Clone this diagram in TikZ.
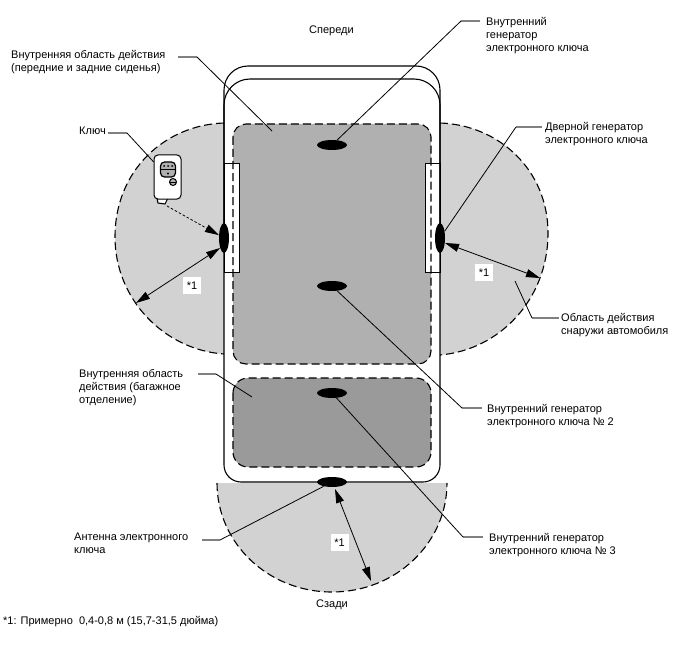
\documentclass[tikz,border=0pt]{standalone}
\usepackage{fontspec}
\setmainfont{Liberation Sans}
\usetikzlibrary{arrows.meta,shapes.geometric}
\definecolor{outerzone}{HTML}{D2D2D2}
\definecolor{cabinzone}{HTML}{B0B0B0}
\definecolor{trunkzone}{HTML}{9A9A9A}
\definecolor{leadgray}{HTML}{808080}
\begin{document}
\begin{tikzpicture}[x=1pt,y=-1pt,
    zone/.style={dash pattern=on 8pt off 4pt,line width=1.1pt},
    body/.style={draw=black,line width=1.1pt},
    lead/.style={draw=black,line width=0.8pt},
    stub/.style={draw=leadgray,line width=1.4pt},
    span/.style={draw=black,line width=0.8pt,{Triangle[length=14pt,width=8pt]}-{Triangle[length=14pt,width=8pt]}}]
\useasboundingbox (0,0) rectangle (688,658);

% zones
\fill [outerzone] (224,123) .. controls (165,125) and (115,170) .. (115,237) .. controls (115,300) and (165,350) .. (224,354) -- cycle;
\draw [zone] (224,123) .. controls (165,125) and (115,170) .. (115,237) .. controls (115,300) and (165,350) .. (224,354);
\fill [outerzone] (440,123) .. controls (499,125) and (548,170) .. (548,233) .. controls (548,300) and (499,350) .. (440,355) -- cycle;
\draw [zone] (440,123) .. controls (499,125) and (548,170) .. (548,233) .. controls (548,300) and (499,350) .. (440,355);
\fill [outerzone] (217,483) .. controls (217,543) and (268,592) .. (332,592) .. controls (396,592) and (447,543) .. (447,483) -- cycle;
\draw [zone] (217,483) .. controls (217,543) and (268,592) .. (332,592) .. controls (396,592) and (447,543) .. (447,483);
\fill [white] (224,100) rectangle (440,482);
\fill [cabinzone,rounded corners=13pt] (233,124) rectangle (431,364);
\fill [trunkzone,rounded corners=15pt] (233,378) rectangle (431,467);

% car
\draw [draw=black,line width=0.9pt,fill=white] (224,163) rectangle (239,272);
\draw [draw=black,line width=0.9pt,fill=white] (425,163) rectangle (440,272);
\draw [zone,rounded corners=13pt] (233,124) rectangle (431,364);
\draw [zone,rounded corners=15pt] (233,378) rectangle (431,467);
\draw [body,rounded corners=24pt] (224,240) -- (224,66) -- (440,66) -- (440,240);
\draw [body,rounded corners=26pt] (224,240) -- (224,79) -- (440,79) -- (440,240);
\draw [body,rounded corners=17pt] (224,240) -- (224,482) -- (440,482) -- (440,240);

% key
\draw [body,fill=white] (157,198) -- (158,203) -- (165,204) -- (168,198) -- cycle;
\node (key) at (167.5,177) [rectangle,rounded corners=4pt,draw,line width=1pt,fill=white,minimum width=27pt,minimum height=44pt] {};
\draw [line width=1.2pt,fill=cabinzone,rounded corners=4pt] (160.5,162) rectangle (175.5,177);
\draw [line width=1pt] (160.5,169.5) -- (175.5,169.5);
\foreach \dotx in {164,168,172}
    \fill (\dotx,166) circle (1pt);
\fill (168,173.5) circle (1.2pt);
\draw [line width=1pt,fill=cabinzone] (173,182) circle (3.5pt);
\draw [line width=1pt] (170,182) -- (176,182);
\coordinate (keytab) at (167,206);

\begin{scope}[every node/.style={ellipse,fill=black,inner sep=0pt}]
    \node (gen1) at (332,145) [minimum width=30pt,minimum height=10pt] {};
    \node (gen2) at (332,286) [minimum width=30pt,minimum height=10pt] {};
    \node (gen3) at (332,393) [minimum width=30pt,minimum height=10pt] {};
    \node (ant) at (332,482) [minimum width=30pt,minimum height=10pt] {};
    \node (doorl) at (224,238) [minimum width=10pt,minimum height=30pt] {};
    \node (doorr) at (440,238) [minimum width=10pt,minimum height=30pt] {};
\end{scope}

% labels
\begin{scope}[every node/.style={anchor=north west,align=left,inner sep=0pt,font=\fontsize{11}{13}\selectfont}]
    \node (front) at (309,26) {Спереди};
    \node (rear) at (316,600) {Сзади};
    \node (seats) at (11,50) {Внутренняя область действия\\(передние и задние сиденья)};
    \node (keytxt) at (79,127) {Ключ};
    \node (gen1txt) at (486,17) {Внутренний\\генератор\\электронного ключа};
    \node (doortxt) at (545,122) {Дверной генератор\\электронного ключа};
    \node (outtxt) at (561,313) {Область действия\\снаружи автомобиля};
    \node (gen2txt) at (487,404) {Внутренний генератор\\электронного ключа № 2};
    \node (trunktxt) at (79,369) {Внутренняя область\\действия (багажное\\отделение)};
    \node (anttxt) at (74,533) {Антенна электронного\\ключа};
    \node (gen3txt) at (489,533) {Внутренний генератор\\электронного ключа № 3};
    \node (note) at (3,616) {*1: Примерно\ \ 0,4-0,8 м (15,7-31,5 дюйма)};
\end{scope}

% leaders
\coordinate (s1) at (178,57);
\coordinate (b1) at (197,57);
\coordinate (e1) at (272,131);
\coordinate (s2) at (108,133);
\coordinate (b2) at (127,133);
\coordinate (s3) at (480,21);
\coordinate (b3) at (461,21);
\coordinate (s4) at (542,127);
\coordinate (b4) at (516,127);
\coordinate (s5) at (559,318);
\coordinate (b5) at (532,318);
\coordinate (e5) at (515,281);
\coordinate (s6) at (482,408);
\coordinate (b6) at (462,408);
\coordinate (s7) at (198,374);
\coordinate (b7) at (216,374);
\coordinate (e7) at (252,397);
\coordinate (s8) at (202,540);
\coordinate (b8) at (220,540);
\coordinate (s9) at (483,537);
\coordinate (b9) at (463,537);
\draw [stub] (s1) -- (b1);
\draw [lead] (b1) -- (e1);
\draw [stub] (s2) -- (b2);
\draw [lead] (b2) -- (key);
\draw [stub] (s3) -- (b3);
\draw [lead] (b3) -- (gen1);
\draw [stub] (s4) -- (b4);
\draw [lead] (b4) -- (doorr);
\draw [stub] (s5) -- (b5);
\draw [lead] (b5) -- (e5);
\draw [stub] (s6) -- (b6);
\draw [lead] (b6) -- (gen2);
\draw [stub] (s7) -- (b7);
\draw [lead] (b7) -- (e7);
\draw [stub] (s8) -- (b8);
\draw [lead] (b8) -- (ant);
\draw [stub] (s9) -- (b9);
\draw [lead] (b9) -- (gen3);

% reach
\coordinate (edgel) at (136,303);
\coordinate (edger) at (540,278);
\coordinate (edgeb) at (371,581);
\coordinate (startl) at (220,248);
\coordinate (startr) at (445,243);
\coordinate (startb) at (335,489);
\draw [span] (startl) -- (edgel);
\draw [span] (startr) -- (edger);
\draw [span] (startb) -- (edgeb);
\draw [line width=0.8pt,dash pattern=on 2.5pt off 2pt,-{Triangle[length=14pt,width=8pt]}] (keytab) -- (doorl);

\begin{scope}[every node/.style={fill=white,inner sep=0pt,minimum width=18pt,minimum height=17pt,font=\fontsize{11}{13}\selectfont}]
    \node (r1) at (192,285.5) {*1};
    \node (r2) at (484,272.5) {*1};
    \node (r3) at (339.5,542.5) {*1};
\end{scope}
\end{tikzpicture}
\end{document}
